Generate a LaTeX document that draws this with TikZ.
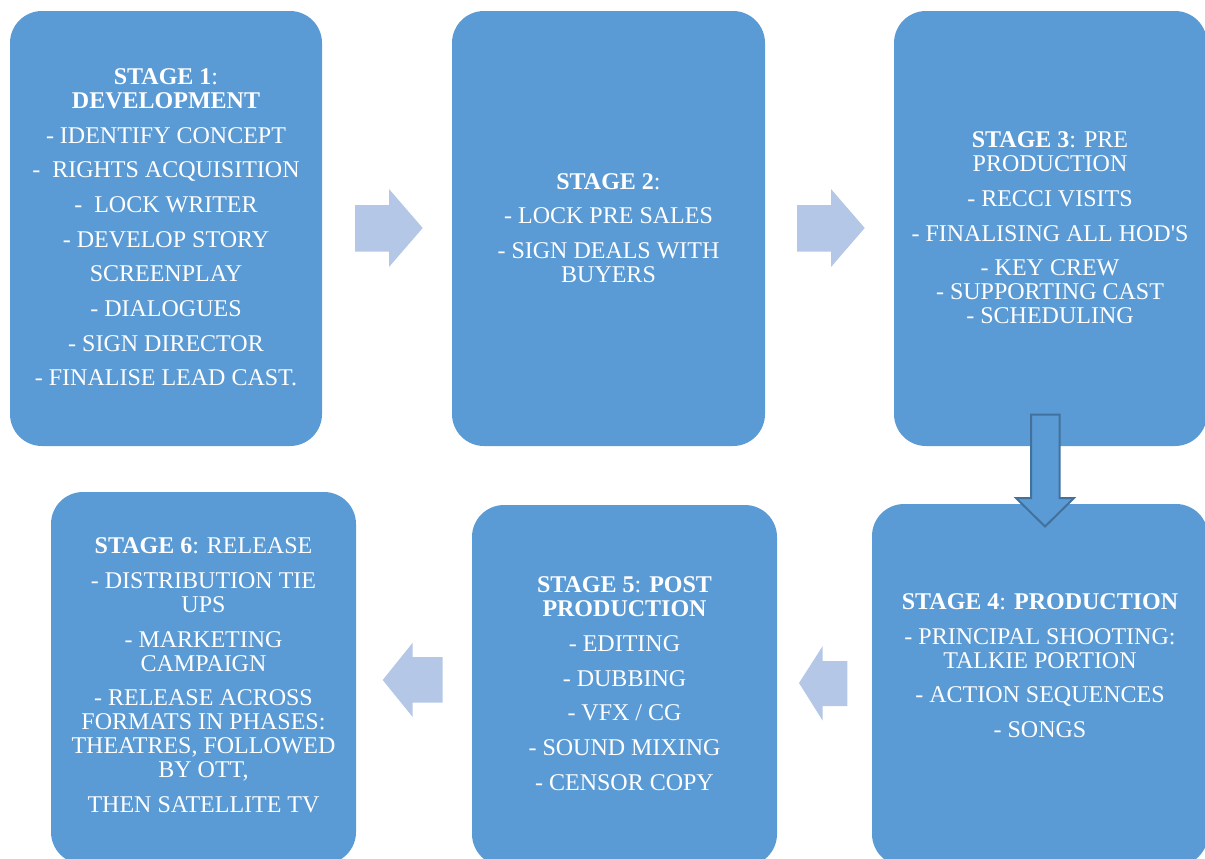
\documentclass[tikz,border=0pt]{standalone}
\usepackage{fontspec}
\setmainfont{Liberation Serif}
\definecolor{stageblue}{HTML}{5B9BD5}
\definecolor{arrowpale}{HTML}{B4C7E7}
\definecolor{arrowedge}{HTML}{41719C}
% straight apostrophe, bypassing the TeX quote mapping
\newcommand{\straightquote}{{\XeTeXglyph\XeTeXcharglyph"27\relax}}
\begin{document}
\begin{tikzpicture}[x=0.75pt,y=-0.75pt,
  stagebox/.style={fill=stageblue, rounded corners=24pt},
  stagetext/.style={text=white, align=center, inner sep=0pt,
    font=\fontsize{18}{18}\selectfont},
  paleshape/.style={fill=arrowpale},
  downshape/.style={fill=stageblue, draw=arrowedge, line width=1.5pt, line join=miter}]
\useasboundingbox (0,0) rectangle (1205,858);
\clip (0,0) rectangle (1205,858);

% stage panels
\path[stagebox] (10,11) rectangle (322,446);
\path[stagebox] (452,11) rectangle (765,446);
\path[stagebox] (894,11) rectangle (1207,446);
\path[stagebox] (872,504) rectangle (1208,866);
\path[stagebox] (472,505) rectangle (777,866);
\path[stagebox] (51,492) rectangle (356,864);

% block arrows between the panels
\fill[paleshape] (355,205) -- (389,205) -- (389,189) -- (422.7,228) -- (389,267) -- (389,251.7) -- (355,251.7) -- cycle;
\fill[paleshape] (797,205) -- (831,205) -- (831,189) -- (864.7,228) -- (831,267) -- (831,251.7) -- (797,251.7) -- cycle;
\fill[paleshape] (847.3,661) -- (822.7,661) -- (822.7,646) -- (799,683) -- (822.7,720.7) -- (822.7,706) -- (847.3,706) -- cycle;
\fill[paleshape] (442.7,657) -- (412.7,657) -- (412.7,642.7) -- (382.7,680) -- (412.7,717) -- (412.7,702.7) -- (442.7,702.7) -- cycle;
\draw[downshape] (1031,414.5) -- (1059.5,414.5) -- (1059.5,498) -- (1074,498) -- (1045,526.5) -- (1016,498) -- (1031,498) -- cycle;

% stage texts
\node[stagetext] (t1) at (166,227.5) {\textbf{STAGE 1}:\\ \textbf{DEVELOPMENT}\\[8pt]
  - IDENTIFY CONCEPT\\[8pt] -\ \ RIGHTS ACQUISITION\\[8pt] -\ \ LOCK WRITER\\[8pt]
  - DEVELOP STORY\\[8pt] SCREENPLAY\\[8pt] - DIALOGUES\\[8pt] - SIGN DIRECTOR\\[8pt]
  - FINALISE LEAD CAST.};
\node[stagetext] (t2) at (608.5,228) {\textbf{STAGE 2}:\\[8pt] - LOCK PRE SALES\\[8pt]
  - SIGN DEALS WITH\\ BUYERS};
\node[stagetext] (t3) at (1050,228) {\textbf{STAGE 3}: PRE\\ PRODUCTION\\[8pt]
  - RECCI VISITS\\[8pt] - FINALISING ALL HOD\straightquote S\\[8pt] - KEY CREW\\
  - SUPPORTING CAST\\ - SCHEDULING};
\node[stagetext] (t4) at (1040,665.5) {\textbf{STAGE 4}: \textbf{PRODUCTION}\\[8pt]
  - PRINCIPAL SHOOTING:\\ TALKIE PORTION\\[8pt] - ACTION SEQUENCES\\[8pt] - SONGS};
\node[stagetext] (t5) at (624.5,683.5) {\textbf{STAGE 5}: \textbf{POST}\\ \textbf{PRODUCTION}\\[8pt]
  - EDITING\\[8pt] - DUBBING\\[8pt] - VFX / CG\\[8pt] - SOUND MIXING\\[8pt] - CENSOR COPY};
\node[stagetext] (t6) at (203.5,675.5) {\textbf{STAGE 6}: RELEASE\\[8pt]
  - DISTRIBUTION TIE\\ UPS\\[8pt] - MARKETING\\ CAMPAIGN\\[8pt]
  - RELEASE ACROSS\\ FORMATS IN PHASES:\\ THEATRES, FOLLOWED\\ BY OTT,\\[8pt]
  THEN SATELLITE TV};
\end{tikzpicture}
\end{document}
